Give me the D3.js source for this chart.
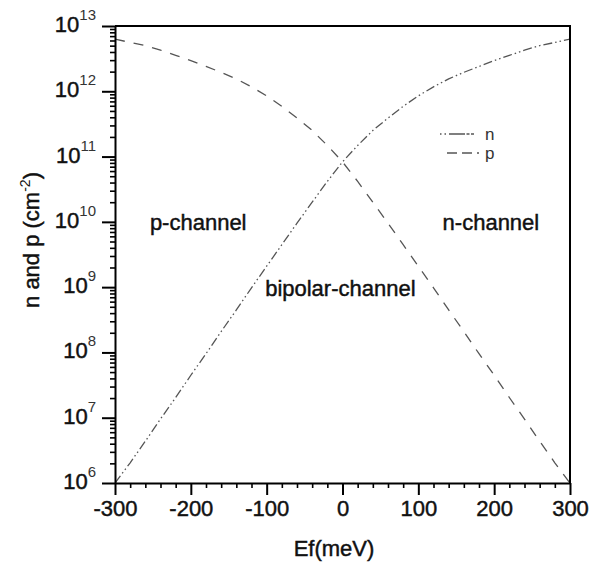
<!DOCTYPE html>
<html>
<head>
<meta charset="utf-8">
<script src="https://cdn.jsdelivr.net/npm/d3@7"></script>
<style>
  body { margin: 0; background: #fff; }
  svg { display: block; }
  text { font-family: "Liberation Sans", Arial, sans-serif; }
  .heavy { stroke: #111; stroke-width: 0.45px; fill: #111; }
</style>
</head>
<body>
<svg id="chart" width="590" height="565"></svg>
<script>
// ---- data ----
const energy = [-300,-280,-260,-240,-220,-200,-180,-160,-140,-120,-100,-80,-60,-40,-20,0,
                20,40,60,80,100,120,140,160,180,200,220,240,260,280,300];
const nValues = [1.0e6,2.04e6,4.37e6,9.55e6,2.04e7,4.47e7,9.55e7,2.09e8,4.47e8,9.77e8,
                 2.09e9,4.47e9,9.55e9,2.0e10,4.17e10,8.3e10,1.48e11,2.51e11,3.89e11,5.89e11,
                 8.51e11,1.17e12,1.55e12,1.95e12,2.4e12,2.95e12,3.55e12,4.27e12,5.0e12,5.6e12,6.3e12];
const pValues = [6.3e12,5.6e12,5.0e12,4.27e12,3.55e12,2.95e12,2.4e12,1.95e12,1.55e12,1.17e12,
                 8.51e11,5.89e11,3.89e11,2.51e11,1.48e11,8.3e10,4.17e10,2.0e10,9.55e9,4.47e9,
                 2.09e9,9.77e8,4.47e8,2.09e8,9.55e7,4.47e7,2.04e7,9.55e6,4.37e6,2.04e6,1.0e6];
const xMajorTicks = [-300,-200,-100,0,100,200,300];
const yMajorExp = [6,7,8,9,10,11,12,13];
const seriesNames = ["n","p"];
const regionLabels = [
  {text:"p-channel", e:-254, v:7.5e9},
  {text:"n-channel", e:132, v:7.5e9},
  {text:"bipolar-channel", e:-102, v:7.3e8}
];
const xTitle = "Ef(meV)";

// ---- layout ----
const svg = d3.select("#chart");
const L = 115, R = 570, T = 26, B = 483;
const x = d3.scaleLinear().domain([-300,300]).range([L,R]);
const y = d3.scaleLog().domain([1e6,1e13]).range([B,T]);

// clip
svg.append("defs").append("clipPath").attr("id","clip")
  .append("rect").attr("x",L).attr("y",T).attr("width",R-L).attr("height",B-T);

// curves
const line = d3.line().x((d,i)=>x(energy[i])).y(d=>y(d));
svg.append("path").datum(nValues).attr("d", line)
  .attr("clip-path","url(#clip)")
  .attr("fill","none").attr("stroke","#555").attr("stroke-width",1.3)
  .attr("stroke-dasharray","9,3,1.5,3,1.5,3");
svg.append("path").datum(pValues).attr("d", line)
  .attr("clip-path","url(#clip)")
  .attr("fill","none").attr("stroke","#555").attr("stroke-width",1.3)
  .attr("stroke-dasharray","10,9");

// frame top/right
svg.append("path")
  .attr("d", `M${L},${T}H${R}V${B}`)
  .attr("fill","none").attr("stroke","#000").attr("stroke-width",2);

// x axis
const xMinor = d3.range(-300,301,20).filter(v=>!xMajorTicks.includes(v));
const gx = svg.append("g").attr("transform",`translate(0,${B})`);
gx.call(d3.axisBottom(x).tickValues(xMinor).tickSize(5).tickSizeOuter(0).tickFormat(""));
gx.call(g=>g.selectAll(".domain").remove());
const gx2 = svg.append("g").attr("transform",`translate(0,${B})`);
gx2.call(d3.axisBottom(x).tickValues(xMajorTicks).tickSize(12).tickSizeOuter(0).tickPadding(5).tickFormat(d=>d));
svg.selectAll("g .domain").attr("stroke-width",2);
gx.selectAll("line").attr("stroke-width",1.6);
gx2.selectAll("line").attr("stroke-width",2);
gx2.selectAll("text").attr("font-size",22).attr("class","heavy")
  .attr("font-family","'Liberation Sans', Arial, sans-serif");

// y axis
const yMinor = [];
yMajorExp.slice(0,-1).forEach(e=>{ for(let m=2;m<10;m++) yMinor.push(m*Math.pow(10,e)); });
const gy = svg.append("g").attr("transform",`translate(${L},0)`);
gy.call(d3.axisLeft(y).tickValues(yMinor).tickSize(5).tickSizeOuter(0).tickFormat(""));
gy.call(g=>g.selectAll(".domain").remove());
gy.selectAll("line").attr("stroke-width",1.6);
const yMajor = yMajorExp.map(e=>Math.pow(10,e));
const gy2 = svg.append("g").attr("transform",`translate(${L},0)`);
gy2.call(d3.axisLeft(y).tickValues(yMajor).tickSize(13).tickSizeOuter(0).tickFormat(""));
gy2.selectAll("line").attr("stroke-width",2);
gy2.select(".domain").attr("stroke-width",2);

// y tick labels with superscripts
yMajorExp.forEach(e=>{
  const yy = y(Math.pow(10,e));
  const t = svg.append("text").attr("x",96).attr("y",yy+6)
    .attr("text-anchor","end").attr("fill","#111");
  t.append("tspan").attr("font-size",22).attr("class","heavy").text("10");
  t.append("tspan").attr("font-size",15).attr("fill","#333").attr("dy",-12).text(String(e));
});

// axis titles
svg.append("text").attr("x",334).attr("y",556).attr("text-anchor","middle")
  .attr("font-size",22).attr("class","heavy").text(xTitle);
const yt = svg.append("text")
  .attr("transform","translate(39,240) rotate(-90)")
  .attr("text-anchor","middle").attr("font-size",22).attr("class","heavy");
yt.append("tspan").text("n and p (cm");
yt.append("tspan").attr("font-size",14).attr("dy",-9).style("stroke","none").text("-2");
yt.append("tspan").attr("dy",9).text(")");

// region labels
regionLabels.forEach(r=>{
  svg.append("text").attr("x",x(r.e)).attr("y",y(r.v)).attr("font-size",22)
    .attr("class","heavy").text(r.text);
});

// legend
const legY = [134,153];
seriesNames.forEach((s,i)=>{
  svg.append("line").attr("x1", i===0?440:447).attr("x2",479)
    .attr("y1",legY[i]).attr("y2",legY[i])
    .attr("stroke","#555").attr("stroke-width",1.3)
    .attr("stroke-dasharray", i===0 ? "1.5,3,1.5,3,16" : "10,5");
  svg.append("text").attr("x",485).attr("y",legY[i]+6).attr("font-size",17)
    .attr("fill","#333").text(s);
});
</script>
</body>
</html>
